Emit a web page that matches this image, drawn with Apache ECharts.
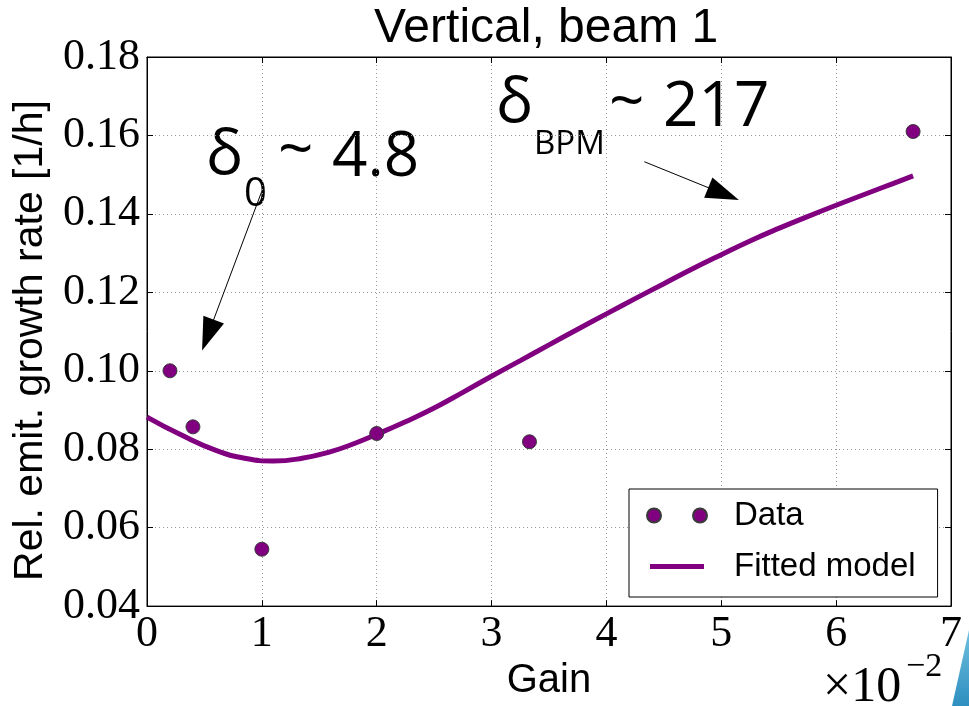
<!DOCTYPE html>
<html>
<head>
<meta charset="utf-8">
<script src="https://cdn.jsdelivr.net/npm/echarts@6/dist/echarts.min.js"></script>
<style>html,body{margin:0;padding:0;background:#fff;}#c{width:969px;height:706px;}</style>
</head>
<body>
<div id="c"></div>
<script>
// Measured data points (gain in units of 1e-2)
const dataGain = [0.2, 0.4, 1.0, 2.0, 3.33, 6.67];
const dataRate = [0.100, 0.0857, 0.0545, 0.0840, 0.0819, 0.161];
// Fitted model curve
const fitGain = [0, 0.3, 0.6, 0.85, 1.1, 1.35, 1.6, 1.8, 2.0, 2.25, 2.5, 2.75, 3.0, 3.25, 3.5, 3.75, 4.0, 4.25, 4.5, 4.75, 5.0, 5.25, 5.5, 5.75, 6.0, 6.25, 6.5, 6.67];
const fitRate = [0.0882, 0.0836, 0.0797, 0.0777, 0.0770, 0.0777, 0.0794, 0.0814, 0.0838, 0.0870, 0.0905, 0.0945, 0.0986, 0.1026, 0.1066, 0.1106, 0.1145, 0.1184, 0.1222, 0.1260, 0.1296, 0.1331, 0.1363, 0.1393, 0.1422, 0.1450, 0.1478, 0.1497];
// Axis ticks
const xTicks = [0, 1, 2, 3, 4, 5, 6, 7];
const yTicks = [0.04, 0.06, 0.08, 0.10, 0.12, 0.14, 0.16, 0.18];
// Annotation arrows [start, end] in data coords
const arrow0 = [[1.00, 0.1458], [0.53, 0.1091]];
const arrowBPM = [[4.33, 0.1533], [5.02, 0.1451]];

const chart = echarts.init(document.getElementById('c'), null, {renderer: 'canvas'});
const purple = '#800080';
const sans = 'Liberation Sans';
const serif = 'Liberation Serif';

const axisCommon = {
  type: 'value',
  axisLine: {show: true, onZero: false, lineStyle: {color: '#000', width: 1}},
  axisTick: {show: true, inside: true, length: 6, lineStyle: {color: '#000'}},
};

const option = {
  backgroundColor: '#fff',
  animation: false,
  title: {
    text: 'Vertical, beam 1',
    left: 374, top: 5, padding: 0,
    textStyle: {fontFamily: sans, fontSize: 48, fontWeight: 'normal', color: '#000'}
  },
  grid: {left: 147, top: 57, right: 18, bottom: 94, show: true, borderColor: '#000', borderWidth: 1, containLabel: false},
  xAxis: [
    Object.assign({}, axisCommon, {
      min: xTicks[0], max: xTicks[xTicks.length - 1], interval: 1,
      position: 'bottom',
      name: 'Gain', nameLocation: 'middle', nameGap: 51,
      nameTextStyle: {fontFamily: sans, fontSize: 40, color: '#000'},
      axisLabel: {fontFamily: serif, fontSize: 44, color: '#000', margin: 6},
      splitLine: {show: true, lineStyle: {color: '#999', type: [1, 3], width: 1}}
    }),
    Object.assign({}, axisCommon, {
      min: xTicks[0], max: xTicks[xTicks.length - 1], interval: 1,
      position: 'top', axisLabel: {show: false}, splitLine: {show: false}
    })
  ],
  yAxis: [
    Object.assign({}, axisCommon, {
      min: yTicks[0], max: yTicks[yTicks.length - 1], interval: 0.02,
      position: 'left',
      name: 'Rel. emit. growth rate [1/h]', nameLocation: 'middle', nameGap: 96, nameRotate: 90,
      nameTextStyle: {fontFamily: sans, fontSize: 41, color: '#000', padding: [0, 18, 0, 0]},
      axisLabel: {fontFamily: serif, fontSize: 44, color: '#000', margin: 7, formatter: v => v.toFixed(2)},
      splitLine: {show: true, lineStyle: {color: '#999', type: [1, 3], width: 1}}
    }),
    Object.assign({}, axisCommon, {
      min: yTicks[0], max: yTicks[yTicks.length - 1], interval: 0.02,
      position: 'right', axisLabel: {show: false}, splitLine: {show: false}
    })
  ],
  legend: {
    orient: 'vertical',
    left: 629, top: 489,
    padding: [10, 22, 14, 17],
    itemGap: 18,
    itemWidth: 60, itemHeight: 14,
    backgroundColor: '#fff',
    borderColor: '#000', borderWidth: 1,
    textStyle: {fontFamily: sans, fontSize: 33, color: '#000', padding: [0, 0, 0, 22]},
    data: [
      {name: 'Data', icon: 'path://M0,7a7,7 0 1,0 14,0a7,7 0 1,0 -14,0zM46,7a7,7 0 1,0 14,0a7,7 0 1,0 -14,0z'},
      {name: 'Fitted model', icon: 'path://M0,0h0.01v0.01h-0.01zM3,4.5h54v5h-54zM59.99,13.99h0.01v0.01h-0.01z'}
    ]
  },
  series: [
    {
      name: 'Fitted model', type: 'line',
      data: fitGain.map((g, i) => [g, fitRate[i]]),
      smooth: 0.5,
      symbol: 'none',
      lineStyle: {color: purple, width: 5},
      itemStyle: {color: purple},
      z: 3,
      markLine: {
        silent: true,
        symbol: ['none', 'triangle'],
        symbolSize: [22, 33],
        label: {show: false},
        lineStyle: {color: '#000', width: 1, type: 'solid'},
        itemStyle: {color: '#000'},
        data: [
          [{coord: arrow0[0]}, {coord: arrow0[1]}],
          [{coord: arrowBPM[0]}, {coord: arrowBPM[1]}]
        ]
      }
    },
    {
      name: 'Data', type: 'scatter',
      data: dataGain.map((g, i) => [g, dataRate[i]]),
      symbol: 'circle', symbolSize: 14,
      itemStyle: {color: purple, borderColor: '#3a3a3a', borderWidth: 1, opacity: 1},
      z: 4
    }
  ],
  graphic: [
    // delta_0 annotation
    {type: 'text', x: 206, y: 156, style: {text: 'δ', font: '62px "Open Sans"', fill: '#000', verticalAlign: 'middle'}},
    {type: 'text', x: 244, y: 195, style: {text: '0', font: '40px "Open Sans"', fill: '#000', verticalAlign: 'middle'}},
    {type: 'text', x: 278, y: 152, style: {text: '~', font: '62px "Open Sans"', fill: '#000', verticalAlign: 'middle'}},
    {type: 'text', x: 332, y: 158, style: {text: '4.8', font: '62px "Open Sans"', fill: '#000', verticalAlign: 'middle'}},
    // delta_BPM annotation
    {type: 'text', x: 496, y: 104, style: {text: 'δ', font: '62px "Open Sans"', fill: '#000', verticalAlign: 'middle'}},
    {type: 'text', x: 534, y: 145, style: {text: 'BPM', font: '33px "Open Sans"', fill: '#000', verticalAlign: 'middle'}},
    {type: 'text', x: 609, y: 104, style: {text: '~', font: '62px "Open Sans"', fill: '#000', verticalAlign: 'middle'}},
    {type: 'text', x: 663, y: 108, style: {text: '217', font: '62px "Open Sans"', fill: '#000', verticalAlign: 'middle'}},
    // axis multiplier
    {type: 'text', x: 823, y: 688, style: {text: '×10', font: '50px "Liberation Serif"', fill: '#000', verticalAlign: 'middle'}},
    {type: 'text', x: 906, y: 667, style: {text: '−2', font: '34px "Liberation Serif"', fill: '#000', verticalAlign: 'middle'}},
    // slide decoration in corner
    {type: 'polygon', shape: {points: [[952, 706], [969, 630], [969, 706]]},
     style: {fill: new echarts.graphic.LinearGradient(0, 0, 0, 1, [{offset: 0, color: '#6fc0e0'}, {offset: 1, color: '#2f8fbf'}])}, z: 100}
  ]
};
chart.setOption(option);
</script>
</body>
</html>
